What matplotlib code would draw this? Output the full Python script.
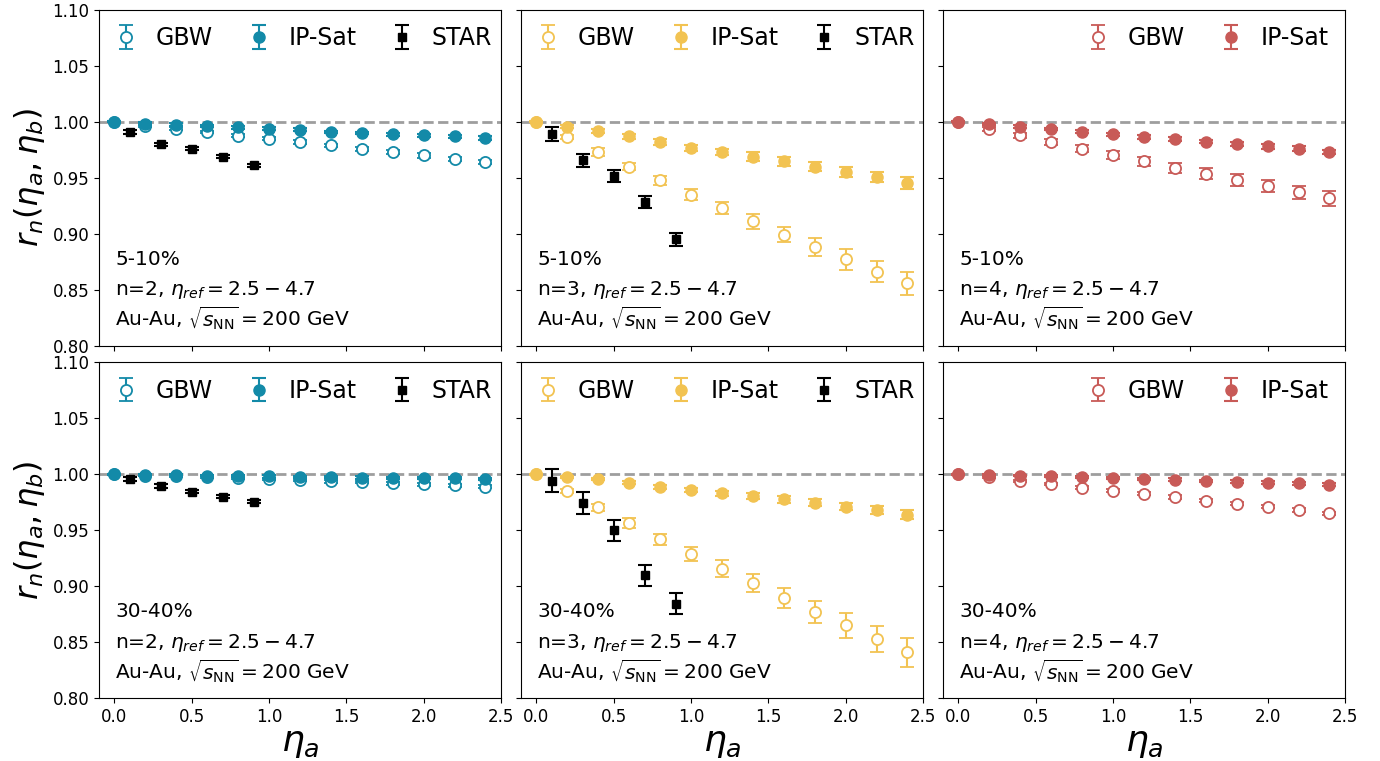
import matplotlib
matplotlib.use("Agg")
import matplotlib.pyplot as plt
import numpy as np

# eta_a points for the models and for STAR
eta_model = [0.0, 0.2, 0.4, 0.6, 0.8, 1.0, 1.2, 1.4, 1.6, 1.8, 2.0, 2.2, 2.4]
eta_star = [0.1, 0.3, 0.5, 0.7, 0.9]

# ---- 5-10% ----
gbw_n2_c1 = [1.000, 0.9967, 0.994, 0.991, 0.9875, 0.985, 0.982, 0.979, 0.976, 0.973, 0.970, 0.967, 0.964]
gbw_n2_c1_err = [0.0005, 0.001, 0.001, 0.0012, 0.0013, 0.0014, 0.0015, 0.0016, 0.0017, 0.0018, 0.0019, 0.002, 0.002]
ips_n2_c1 = [1.000, 0.9985, 0.9976, 0.9964, 0.995, 0.994, 0.993, 0.991, 0.990, 0.989, 0.988, 0.987, 0.9857]
ips_n2_c1_err = [0.0005, 0.001, 0.001, 0.001, 0.001, 0.0012, 0.0012, 0.0012, 0.0013, 0.0013, 0.0014, 0.0014, 0.0015]
star_n2_c1 = [0.991, 0.980, 0.976, 0.969, 0.961]
star_n2_c1_err = [0.0015, 0.0015, 0.0015, 0.0015, 0.0015]

gbw_n3_c1 = [1.000, 0.9866, 0.973, 0.960, 0.9476, 0.935, 0.923, 0.911, 0.899, 0.888, 0.877, 0.866, 0.8557]
gbw_n3_c1_err = [0.0005, 0.002, 0.0035, 0.003, 0.004, 0.0048, 0.0055, 0.0065, 0.0068, 0.008, 0.0092, 0.0094, 0.0104]
ips_n3_c1 = [1.000, 0.9958, 0.9917, 0.987, 0.982, 0.977, 0.973, 0.969, 0.9646, 0.960, 0.955, 0.951, 0.9455]
ips_n3_c1_err = [0.0005, 0.001, 0.0015, 0.002, 0.0024, 0.0027, 0.003, 0.0036, 0.004, 0.004, 0.0045, 0.0046, 0.0054]
star_n3_c1 = [0.9893, 0.9655, 0.952, 0.928, 0.8949]
star_n3_c1_err = [0.006, 0.0058, 0.0054, 0.0054, 0.0055]

gbw_n4_c1 = [1.000, 0.9937, 0.988, 0.982, 0.976, 0.9705, 0.9646, 0.959, 0.9536, 0.948, 0.9426, 0.937, 0.9316]
gbw_n4_c1_err = [0.0005, 0.0015, 0.002, 0.0025, 0.003, 0.0035, 0.004, 0.0043, 0.0047, 0.005, 0.005, 0.006, 0.0065]
ips_n4_c1 = [1.000, 0.998, 0.9958, 0.9935, 0.991, 0.989, 0.9866, 0.9845, 0.9824, 0.980, 0.978, 0.976, 0.973]
ips_n4_c1_err = [0.0005, 0.001, 0.001, 0.0012, 0.0013, 0.0014, 0.0015, 0.0016, 0.0017, 0.0018, 0.0019, 0.002, 0.002]

# ---- 30-40% ----
gbw_n2_c2 = [1.000, 0.9988, 0.998, 0.9976, 0.9964, 0.9955, 0.9946, 0.9937, 0.993, 0.992, 0.991, 0.990, 0.989]
gbw_n2_c2_err = [0.0005, 0.0008, 0.0008, 0.001, 0.001, 0.001, 0.001, 0.0012, 0.0012, 0.0012, 0.0012, 0.0013, 0.0013]
ips_n2_c2 = [1.000, 0.9994, 0.999, 0.9988, 0.9982, 0.998, 0.9976, 0.9973, 0.997, 0.9967, 0.9964, 0.9964, 0.9958]
ips_n2_c2_err = [0.0005, 0.0008, 0.0008, 0.0008, 0.001, 0.001, 0.001, 0.001, 0.001, 0.001, 0.001, 0.001, 0.001]
star_n2_c2 = [0.9958, 0.9896, 0.9845, 0.980, 0.9755]
star_n2_c2_err = [0.0015, 0.0015, 0.0015, 0.0015, 0.0015]

gbw_n3_c2 = [1.000, 0.985, 0.9705, 0.9565, 0.942, 0.9287, 0.9156, 0.9025, 0.8897, 0.877, 0.865, 0.8527, 0.8408]
gbw_n3_c2_err = [0.0005, 0.002, 0.0033, 0.0043, 0.005, 0.0063, 0.0075, 0.008, 0.009, 0.010, 0.011, 0.012, 0.013]
ips_n3_c2 = [1.000, 0.9976, 0.9958, 0.9925, 0.989, 0.986, 0.983, 0.9806, 0.9776, 0.9746, 0.971, 0.968, 0.964]
ips_n3_c2_err = [0.0005, 0.001, 0.0012, 0.0015, 0.0018, 0.002, 0.0022, 0.0025, 0.003, 0.003, 0.0032, 0.0035, 0.004]
star_n3_c2 = [0.9943, 0.974, 0.950, 0.9097, 0.8843]
star_n3_c2_err = [0.0101, 0.0099, 0.0095, 0.0095, 0.0095]

gbw_n4_c2 = [1.000, 0.9973, 0.9943, 0.9914, 0.988, 0.9854, 0.9824, 0.9797, 0.9764, 0.9738, 0.971, 0.968, 0.965]
gbw_n4_c2_err = [0.0005, 0.001, 0.001, 0.0012, 0.0012, 0.0013, 0.0013, 0.0014, 0.0014, 0.0015, 0.0015, 0.0016, 0.0016]
ips_n4_c2 = [1.000, 0.999, 0.9988, 0.9982, 0.9973, 0.9964, 0.9958, 0.9952, 0.9943, 0.9934, 0.9925, 0.992, 0.9908]
ips_n4_c2_err = [0.0005, 0.0008, 0.0008, 0.001, 0.001, 0.001, 0.001, 0.001, 0.001, 0.0012, 0.0012, 0.0012, 0.0012]

colors = {2: "#138aa8", 3: "#f2c352", 4: "#c85a57"}
centralities = ["5-10%", "30-40%"]

panels = [
    [(2, gbw_n2_c1, gbw_n2_c1_err, ips_n2_c1, ips_n2_c1_err, star_n2_c1, star_n2_c1_err),
     (3, gbw_n3_c1, gbw_n3_c1_err, ips_n3_c1, ips_n3_c1_err, star_n3_c1, star_n3_c1_err),
     (4, gbw_n4_c1, gbw_n4_c1_err, ips_n4_c1, ips_n4_c1_err, None, None)],
    [(2, gbw_n2_c2, gbw_n2_c2_err, ips_n2_c2, ips_n2_c2_err, star_n2_c2, star_n2_c2_err),
     (3, gbw_n3_c2, gbw_n3_c2_err, ips_n3_c2, ips_n3_c2_err, star_n3_c2, star_n3_c2_err),
     (4, gbw_n4_c2, gbw_n4_c2_err, ips_n4_c2, ips_n4_c2_err, None, None)],
]

fig, axes = plt.subplots(2, 3, figsize=(13.8, 7.61), dpi=100, sharex=True, sharey=True)
fig.subplots_adjust(left=0.0717, right=0.9746, top=0.9869, bottom=0.0828,
                    wspace=0.05, hspace=0.05)

for i, row in enumerate(panels):
    for j, (n, gbw, gbw_err, ips, ips_err, star, star_err) in enumerate(row):
        ax = axes[i, j]
        c = colors[n]
        ax.axhline(1.0, color="#9e9e9e", linestyle="--", linewidth=2, zorder=0)

        ax.errorbar(eta_model, gbw, yerr=gbw_err, fmt="o", color=c, mfc="white",
                    mec=c, ms=8, mew=1.3, capsize=5, elinewidth=1.5, capthick=1.5,
                    label="GBW")
        ax.errorbar(eta_model, ips, yerr=ips_err, fmt="o", color=c, ms=8,
                    capsize=5, elinewidth=1.5, capthick=1.5, label="IP-Sat")
        leg_kw = dict(frameon=False, fontsize=17, handlelength=0.9,
                      handletextpad=0.8, columnspacing=1.5, borderaxespad=0.3)
        if star is not None:
            ax.errorbar(eta_star, star, yerr=star_err, fmt="s", color="black", ms=6,
                        capsize=5, elinewidth=1.5, capthick=1.5, label="STAR")
            ax.legend(loc="upper left", ncol=3, **leg_kw)
        else:
            ax.legend(loc="upper right", ncol=2, **leg_kw)

        ax.text(0.04, 0.24, centralities[i], transform=ax.transAxes, fontsize=14.5)
        ax.text(0.04, 0.15, r"n=%d, $\eta_{ref}=2.5-4.7$" % n, transform=ax.transAxes,
                fontsize=14.5)
        ax.text(0.04, 0.057, r"Au-Au, $\sqrt{s_{\rm NN}}=200$ GeV", transform=ax.transAxes,
                fontsize=14.5)

        ax.set_xlim(-0.1, 2.5)
        ax.set_ylim(0.80, 1.10)
        ax.set_yticks([0.80, 0.85, 0.90, 0.95, 1.00, 1.05, 1.10])
        ax.set_xticks([0.0, 0.5, 1.0, 1.5, 2.0, 2.5])
        ax.tick_params(labelsize=12)
        if j == 0:
            ax.set_ylabel(r"$r_n(\eta_a,\eta_b)$", fontsize=23)
        if i == 1:
            ax.set_xlabel(r"$\eta_a$", fontsize=26, labelpad=0)

for ax in axes[0, :]:
    ax.tick_params(labelbottom=False)
for ax in axes[:, 0]:
    ax.yaxis.set_major_formatter(matplotlib.ticker.FormatStrFormatter("%.2f"))

fig.savefig("out.png", dpi=100)
